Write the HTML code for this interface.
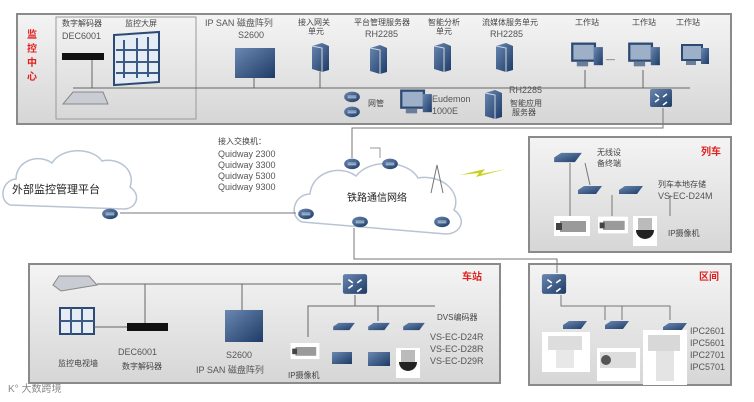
<!DOCTYPE html>
<html><head><meta charset="utf-8"><style>
body{margin:0;background:#fff}
svg{display:block;font-family:"Liberation Sans","Noto Sans CJK SC",sans-serif}
.t{font-size:8px;fill:#444}
.m{font-size:9px;fill:#555}
.r{font-size:10px;fill:#e02020;font-weight:bold}
</style></head><body>
<svg width="754" height="402" viewBox="0 0 754 402">
<defs>
<linearGradient id="g" x1="0" y1="0" x2="0" y2="1"><stop offset="0" stop-color="#f4f4f4"/><stop offset="1" stop-color="#d6d6d6"/></linearGradient>
<linearGradient id="d" x1="0" y1="0" x2="1" y2="1"><stop offset="0" stop-color="#6a88b0"/><stop offset="1" stop-color="#1d3b66"/></linearGradient>
<symbol id="sw" viewBox="0 0 24 20"><rect x="1" y="1" width="22" height="18" rx="2" fill="url(#d)"/><path d="M6 6l4 3M18 6l-4 3M6 14l4-3M18 14l-4 3" stroke="#fff" stroke-width="1.5"/></symbol>
<symbol id="rt" viewBox="0 0 20 16"><ellipse cx="10" cy="9" rx="9" ry="6" fill="url(#d)"/><path d="M5 8h10M5 10h10" stroke="#cde" stroke-width="1"/></symbol>
<symbol id="sv" viewBox="0 0 20 30"><path d="M2 4l10-3 7 3v24l-7 2-10-3z" fill="url(#d)"/><path d="M2 4l10 2v24" stroke="#cfd8e6" fill="none"/></symbol>
<symbol id="pc" viewBox="0 0 30 24"><rect x="2" y="2" width="20" height="15" fill="#9eb0c8" stroke="#2c4a74" stroke-width="2"/><rect x="21" y="5" width="8" height="16" fill="url(#d)"/><rect x="6" y="18" width="10" height="4" fill="#6a7e9a"/></symbol>
<symbol id="enc" viewBox="0 0 26 10"><path d="M1 5l6-4h18l-6 8H1z" fill="url(#d)"/></symbol>
<symbol id="cam" viewBox="0 0 36 20"><rect width="36" height="20" fill="#fff"/><rect x="6" y="5" width="26" height="11" fill="#9a9a9a"/><rect x="2" y="7" width="6" height="7" fill="#444"/></symbol>
<symbol id="dome" viewBox="0 0 24 30"><rect width="24" height="30" fill="#fff"/><rect x="5" y="2" width="14" height="12" fill="#bbb"/><path d="M3 14h18a9 9 0 0 1-18 0z" fill="#222"/></symbol>
</defs>

<!-- monitor center -->
<rect x="17" y="14" width="714" height="110" fill="url(#g)" stroke="#8a8a8a" stroke-width="2"/>
<rect x="56" y="17" width="140" height="102" fill="none" stroke="#999"/>
<text class="r" x="27" y="38">监</text><text class="r" x="27" y="52">控</text><text class="r" x="27" y="66">中</text><text class="r" x="27" y="80">心</text>
<text class="t" x="62" y="26">数字解码器</text><text class="t" x="125" y="26">监控大屏</text>
<text class="m" x="62" y="39">DEC6001</text>
<rect x="62" y="53" width="42" height="7" fill="#111"/>
<path d="M114 35l45-3v50l-45 3z" fill="#e6ecf4" stroke="#2c4a74" stroke-width="2"/>
<path d="M124 40v38M137 38v40M148 37v40M116 50h42M116 62h42M116 73h42" stroke="#3b5a86" stroke-width="2"/>
<path d="M63 104l10-12h30l5 12z" fill="#c9ccd3" stroke="#888"/>
<line x1="73" y1="88" x2="690" y2="88" stroke="#666"/>
<line x1="92" y1="60" x2="92" y2="88" stroke="#666"/>
<text class="m" x="205" y="26">IP SAN 磁盘阵列</text><text class="m" x="238" y="38">S2600</text>
<rect x="235" y="48" width="40" height="30" fill="url(#d)"/>
<line x1="254" y1="78" x2="254" y2="88" stroke="#666"/>
<text class="t" x="298" y="25">接入网关</text><text class="t" x="308" y="34">单元</text>
<use href="#sv" x="310" y="42" width="20" height="30"/>
<line x1="320" y1="72" x2="320" y2="88" stroke="#666"/>
<text class="t" x="354" y="25">平台管理服务器</text><text class="m" x="365" y="37">RH2285</text>
<use href="#sv" x="368" y="42" width="20" height="34"/>
<text class="t" x="428" y="25">智能分析</text><text class="t" x="436" y="34">单元</text>
<use href="#sv" x="432" y="42" width="20" height="30"/>
<text class="t" x="482" y="25">流媒体服务单元</text><text class="m" x="490" y="37">RH2285</text>
<use href="#sv" x="494" y="42" width="20" height="30"/>
<use href="#sv" x="483" y="88" width="20" height="32"/>
<text class="m" x="509" y="93">RH2285</text><text class="t" x="510" y="106">智能应用</text><text class="t" x="512" y="115">服务器</text>
<use href="#pc" x="399" y="88" width="34" height="28"/>
<text class="m" x="432" y="102">Eudemon</text><text class="m" x="432" y="114">1000E</text>
<use href="#rt" x="342" y="89" width="20" height="14"/><use href="#rt" x="342" y="104" width="20" height="14"/>
<text class="t" x="368" y="106">网管</text>
<text class="t" x="575" y="25">工作站</text><text class="t" x="632" y="25">工作站</text><text class="t" x="676" y="25">工作站</text>
<use href="#pc" x="570" y="40" width="34" height="30"/><use href="#pc" x="627" y="40" width="34" height="30"/><use href="#pc" x="680" y="40" width="30" height="30"/>
<text class="m" x="606" y="62">—</text>
<line x1="585" y1="70" x2="585" y2="88" stroke="#666"/><line x1="643" y1="70" x2="643" y2="88" stroke="#666"/>
<use href="#sw" x="649" y="88" width="24" height="20"/>
<polyline points="663,108 663,128 352,128 352,158" fill="none" stroke="#777"/>

<!-- clouds -->
<g fill="#fff" stroke="#b8c4d4" stroke-width="1.5">
<path d="M10 205c-12-5-8-25 6-26 0-18 22-26 36-16 10-16 40-16 50-2 18-4 34 10 28 26 12 8 6 22-6 22z"/>
<path d="M302 222c-14-6-8-28 8-28 2-22 30-30 46-18 14-18 52-16 62 2 24-4 44 14 36 32 14 10 6 24-8 24z"/>
</g>
<text x="12" y="193" font-size="11" fill="#222">外部监控管理平台</text>
<text x="347" y="201" font-size="10" fill="#222">铁路通信网络</text>
<use href="#rt" x="100" y="206" width="20" height="14"/>
<use href="#rt" x="296" y="206" width="20" height="14"/>
<use href="#rt" x="342" y="156" width="20" height="14"/>
<use href="#rt" x="380" y="156" width="20" height="14"/>
<use href="#rt" x="350" y="214" width="20" height="14"/>
<use href="#rt" x="432" y="214" width="20" height="14"/>
<line x1="120" y1="213" x2="296" y2="213" stroke="#777"/>
<path d="M380 158v-10h-10" fill="none" stroke="#999"/>
<path d="M437 165l-6 28M437 165l6 28" stroke="#777"/>
<path d="M460 175l25-6-4 5 25-5-30 8 3-4z" fill="#c8d020"/>
<text class="t" x="218" y="144">接入交换机：</text>
<text class="m" x="218" y="157">Quidway 2300</text><text class="m" x="218" y="168">Quidway 3300</text>
<text class="m" x="218" y="179">Quidway 5300</text><text class="m" x="218" y="190">Quidway 9300</text>

<!-- train -->
<rect x="529" y="137" width="202" height="115" fill="url(#g)" stroke="#8a8a8a" stroke-width="2"/>
<text class="r" x="701" y="155">列车</text>
<use href="#enc" x="553" y="151" width="30" height="13"/>
<text class="t" x="597" y="155">无线设</text><text class="t" x="597" y="166">备终端</text>
<use href="#enc" x="576" y="185" width="28" height="10"/><use href="#enc" x="617" y="185" width="28" height="10"/>
<text class="t" x="658" y="187">列车本地存储</text><text class="m" x="658" y="199">VS-EC-D24M</text>
<use href="#cam" x="554" y="216" width="36" height="20"/><use href="#cam" x="598" y="216" width="30" height="18"/>
<use href="#dome" x="633" y="216" width="24" height="30"/>
<text class="t" x="668" y="236">IP摄像机</text>
<path d="M570 163v53M585 163l5 22M612 195v21M670 195v21" stroke="#777"/>

<!-- interval -->
<rect x="529" y="264" width="202" height="121" fill="url(#g)" stroke="#8a8a8a" stroke-width="2"/>
<text class="r" x="699" y="280">区间</text>
<use href="#sw" x="540" y="273" width="28" height="22"/>
<polyline points="354,228 354,259 557,259 557,273" fill="none" stroke="#777"/>
<polyline points="561,295 561,306 670,306 670,320" fill="none" stroke="#777"/>
<line x1="605" y1="306" x2="605" y2="320" stroke="#777"/><line x1="622" y1="306" x2="622" y2="320" stroke="#777"/>
<use href="#enc" x="560" y="320" width="30" height="10"/><use href="#enc" x="602" y="320" width="30" height="10"/><use href="#enc" x="660" y="322" width="30" height="10"/>
<rect x="542" y="332" width="48" height="40" fill="#fff"/><rect x="548" y="336" width="34" height="14" fill="#ddd"/><rect x="556" y="350" width="18" height="18" fill="#e8e8e8"/>
<rect x="597" y="348" width="43" height="33" fill="#fff"/><rect x="600" y="352" width="36" height="16" fill="#ddd"/><circle cx="606" cy="360" r="5" fill="#555"/>
<rect x="643" y="330" width="44" height="55" fill="#fff"/><rect x="648" y="335" width="32" height="16" fill="#d8d8d8"/><rect x="656" y="351" width="18" height="30" fill="#e4e4e4"/>
<text class="m" x="690" y="334">IPC2601</text><text class="m" x="690" y="346">IPC5601</text><text class="m" x="690" y="358">IPC2701</text><text class="m" x="690" y="370">IPC5701</text>

<!-- station -->
<rect x="29" y="264" width="471" height="119" fill="url(#g)" stroke="#8a8a8a" stroke-width="2"/>
<text class="r" x="462" y="280">车站</text>
<use href="#sw" x="341" y="273" width="28" height="22"/>
<line x1="97" y1="284" x2="341" y2="284" stroke="#666"/>
<path d="M53 285l6-9h30l8 9-36 6z" fill="#c9ccd3" stroke="#888"/>
<rect x="60" y="308" width="34" height="26" fill="#e6ecf4" stroke="#2c4a74" stroke-width="2"/>
<path d="M71 308v26M82 308v26M60 321h34" stroke="#3b5a86" stroke-width="2"/>
<line x1="94" y1="327" x2="127" y2="327" stroke="#666"/>
<rect x="127" y="323" width="41" height="8" fill="#111"/>
<line x1="145" y1="284" x2="145" y2="323" stroke="#666"/>
<line x1="242" y1="284" x2="242" y2="310" stroke="#666"/>
<rect x="225" y="310" width="38" height="32" fill="url(#d)"/>
<text class="t" x="58" y="366">监控电视墙</text>
<text class="m" x="118" y="355">DEC6001</text><text class="t" x="122" y="369">数字解码器</text>
<text class="m" x="226" y="358">S2600</text><text class="m" x="196" y="373">IP SAN 磁盘阵列</text>
<polyline points="308,337 308,306 435,306" fill="none" stroke="#666"/>
<line x1="355" y1="295" x2="355" y2="306" stroke="#666"/>
<line x1="378" y1="306" x2="378" y2="321" stroke="#666"/>
<use href="#enc" x="331" y="322" width="26" height="9"/><use href="#enc" x="366" y="322" width="26" height="9"/><use href="#enc" x="401" y="322" width="26" height="9"/>
<use href="#cam" x="287" y="343" width="36" height="16"/>
<text class="t" x="288" y="378">IP摄像机</text>
<rect x="332" y="352" width="20" height="12" fill="url(#d)"/><rect x="368" y="352" width="22" height="14" fill="url(#d)"/>
<use href="#dome" x="396" y="348" width="24" height="30"/>
<text class="t" x="437" y="320">DVS编码器</text>
<text class="m" x="430" y="340">VS-EC-D24R</text><text class="m" x="430" y="352">VS-EC-D28R</text><text class="m" x="430" y="364">VS-EC-D29R</text>
<text x="8" y="392" font-size="10" fill="#888">K° 大数跨境</text>
</svg>
</body></html>
